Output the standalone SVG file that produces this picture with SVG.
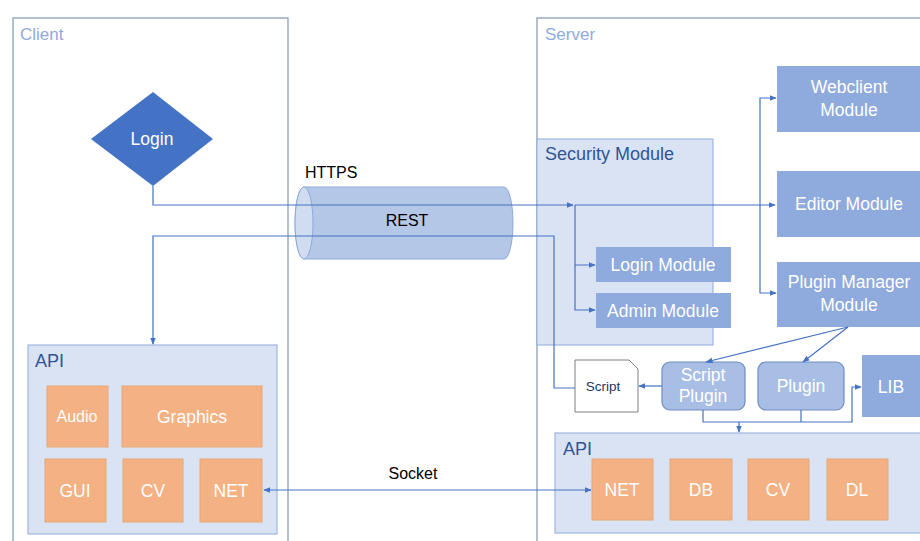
<svg xmlns="http://www.w3.org/2000/svg" width="920" height="541" viewBox="0 0 920 541">
<style>
text{font-family:"Liberation Sans",Arial,sans-serif}
.outer{fill:#fff;stroke:#8497b0;stroke-width:1.2}
.lbl{fill:#8faadc;font-size:17px}
.dlbl{fill:#2f5597;font-size:18px}
.panel{fill:#dae3f3;stroke:#8faadc;stroke-width:1}
.mod{fill:#8faadc}
.wt{fill:#fff;font-size:17.5px;text-anchor:middle}
.org{fill:#f4b183;stroke:#e8a876;stroke-width:1}
.rr{fill:#a9bee4;stroke:#6f8cc4;stroke-width:1.2}
.ln{fill:none;stroke:#4472c4;stroke-width:1.2}
.bt{fill:#000;font-size:16px}
</style>
<defs>
<marker id="ah" viewBox="0 0 10 10" refX="9" refY="5" markerWidth="6" markerHeight="6" orient="auto">
<path d="M0,1 L10,5 L0,9 z" fill="#4472c4"/>
</marker>
</defs>

<g id="client">
<rect class="outer" x="13" y="18" width="275" height="540"/>
<text class="lbl" x="20" y="40">Client</text>
</g>
<g id="server">
<rect class="outer" x="537" y="18" width="400" height="540"/>
<text class="lbl" x="545" y="40">Server</text>
</g>

<g id="login">
<polygon points="153,92 213,139 153,186 91,139" fill="#4472c4"/>
<text class="wt" x="152" y="145">Login</text>
</g>

<g id="rest">
<path d="M304,187 H504 A9,36 0 0 1 504,259 H304 A9,36 0 0 1 304,187 z" fill="#b4c7e7" stroke="#8faadc" stroke-width="1"/>
<ellipse cx="304" cy="223" rx="9" ry="36" fill="#d0dcf0" stroke="#8faadc" stroke-width="1"/>
<text class="bt" x="407" y="226" text-anchor="middle">REST</text>
</g>
<text class="bt" x="305" y="178">HTTPS</text>

<g id="security">
<rect class="panel" x="537" y="139" width="176" height="206"/>
<text class="dlbl" x="545" y="160">Security Module</text>
</g>
<g id="loginmodule"><rect class="mod" x="596" y="247" width="135" height="35"/><text class="wt" x="663" y="271">Login Module</text></g>
<g id="adminmodule"><rect class="mod" x="596" y="293" width="135" height="35"/><text class="wt" x="663" y="317">Admin Module</text></g>

<g id="webclient"><rect class="mod" x="777" y="66" width="143" height="66"/><text class="wt" x="849" y="93">Webclient</text><text class="wt" x="849" y="116">Module</text></g>
<g id="editor"><rect class="mod" x="777" y="171" width="143" height="66"/><text class="wt" x="849" y="210">Editor Module</text></g>
<g id="pluginmgr"><rect class="mod" x="777" y="262" width="143" height="65"/><text class="wt" x="849" y="288">Plugin Manager</text><text class="wt" x="849" y="311">Module</text></g>

<g id="scriptdoc">
<path d="M575,360 H629 L638,369 V412 H575 z" fill="#fff" stroke="#7f7f7f" stroke-width="1"/>
<text x="603" y="391" text-anchor="middle" style="font-size:13.5px;fill:#1f3864">Script</text>
</g>
<g id="scriptplugin"><rect class="rr" x="662" y="362" width="83" height="48" rx="8"/><text class="wt" x="703" y="381">Script</text><text class="wt" x="703" y="402">Plugin</text></g>
<g id="plugin"><rect class="rr" x="758" y="362" width="86" height="48" rx="8"/><text class="wt" x="801" y="392">Plugin</text></g>
<g id="lib"><rect class="mod" x="862" y="355" width="58" height="62"/><text class="wt" x="891" y="393">LIB</text></g>

<g id="serverapi">
<rect class="panel" x="555" y="433" width="380" height="100"/>
<text class="dlbl" x="563" y="455">API</text>
</g>
<g id="snet"><rect class="org" x="592" y="459" width="61" height="61"/><text class="wt" x="622" y="496">NET</text></g>
<g id="sdb"><rect class="org" x="670" y="459" width="62" height="61"/><text class="wt" x="701" y="496">DB</text></g>
<g id="scv"><rect class="org" x="748" y="459" width="61" height="61"/><text class="wt" x="778" y="496">CV</text></g>
<g id="sdl"><rect class="org" x="827" y="459" width="61" height="61"/><text class="wt" x="857" y="496">DL</text></g>

<g id="clientapi">
<rect class="panel" x="28" y="345" width="249" height="189"/>
<text class="dlbl" x="35" y="367">API</text>
</g>
<g id="audio"><rect class="org" x="47" y="386" width="61" height="61"/><text class="wt" x="77" y="422" style="font-size:16px">Audio</text></g>
<g id="graphics"><rect class="org" x="122" y="386" width="140" height="61"/><text class="wt" x="192" y="423">Graphics</text></g>
<g id="gui"><rect class="org" x="45" y="459" width="61" height="63"/><text class="wt" x="75" y="497">GUI</text></g>
<g id="ccv"><rect class="org" x="123" y="459" width="60" height="63"/><text class="wt" x="153" y="497">CV</text></g>
<g id="cnet"><rect class="org" x="200" y="459" width="62" height="63"/><text class="wt" x="231" y="497">NET</text></g>

<g id="connectors">
<path class="ln" d="M153,186 V205 H573" marker-end="url(#ah)"/>
<path class="ln" d="M575,205 H775" marker-end="url(#ah)"/>
<path class="ln" d="M575,205 V265 H595" marker-end="url(#ah)"/>
<path class="ln" d="M575,265 V310 H595" marker-end="url(#ah)"/>
<path class="ln" d="M760,205 V98 H776" marker-end="url(#ah)"/>
<path class="ln" d="M760,205 V293 H776" marker-end="url(#ah)"/>
<path class="ln" d="M575,388 H554 V236 H153 V344" marker-end="url(#ah)"/>
<path class="ln" d="M848,327 L706,362" marker-end="url(#ah)"/>
<path class="ln" d="M848,327 L803,362" marker-end="url(#ah)"/>
<path class="ln" d="M662,386 H639" marker-end="url(#ah)"/>
<path class="ln" d="M703,410 V422 H852 V387 H861" marker-end="url(#ah)"/>
<path class="ln" d="M801,410 V422"/>
<path class="ln" d="M739,422 V432" marker-end="url(#ah)"/>
<path class="ln" d="M300,490 H591" marker-end="url(#ah)"/>
<path class="ln" d="M300,490 H264" marker-end="url(#ah)"/>
</g>
<text class="bt" x="413" y="479" text-anchor="middle">Socket</text>
</svg>
